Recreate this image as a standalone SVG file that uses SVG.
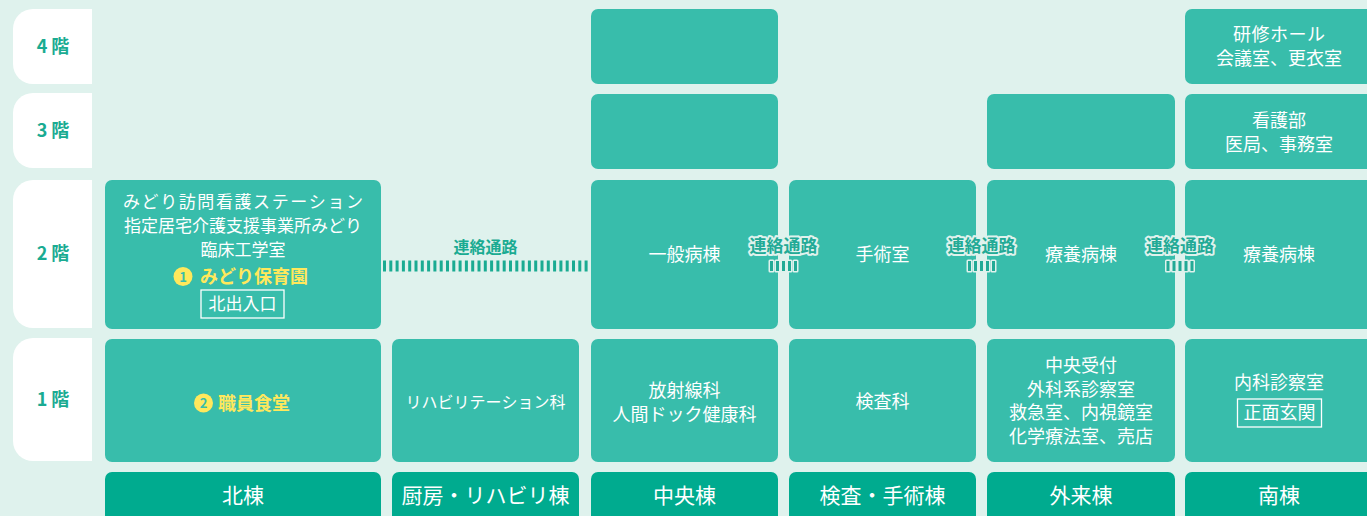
<svg xmlns="http://www.w3.org/2000/svg" width="1367" height="516" viewBox="0 0 1367 516">
<defs>
<style>
.bg{fill:#dff2ed}
.room{fill:#38bdab}
.bld{fill:#00ab8f}
.fl{fill:#ffffff}
text{font-family:"Noto Sans CJK JP","Noto Sans",sans-serif;font-kerning:none}
.flt{fill:#1aab92;font-size:18px;font-weight:700;text-anchor:middle}
.w{fill:#ffffff;font-size:17px;text-anchor:middle}
.w18{fill:#ffffff;font-size:18px;text-anchor:middle}
.w16{fill:#ffffff;font-size:16px;text-anchor:middle}
.bt{fill:#ffffff;font-size:21px;text-anchor:middle}
.yl{fill:#ffe85c;font-size:18px;font-weight:700}
.yc{fill:#ffe85c}
.ycn{fill:#38bdab;font-size:13px;font-weight:700;text-anchor:middle}
.frame{fill:none;stroke:#ffffff;stroke-width:1.3}
.cl{fill:#1aab92;font-size:16px;font-weight:700;text-anchor:middle}
.cl2{fill:#22aa96;font-size:17px;font-weight:700;text-anchor:middle;stroke:#dff2ed;stroke-width:4;stroke-linejoin:round;paint-order:stroke}
.barbg{fill:#dff2ed}
.bar{fill:#22aa96}
</style>
</defs>
<rect class="bg" x="0" y="0" width="1367" height="516"/>

<g id="floor-labels">
<g id="floor-4"><path class="fl" d="M33 9H92V84H33A20 20 0 0 1 13 64V29A20 20 0 0 1 33 9Z"/><text class="flt" x="53" y="53">4 階</text></g>
<g id="floor-3"><path class="fl" d="M33 93H92V168H33A20 20 0 0 1 13 148V113A20 20 0 0 1 33 93Z"/><text class="flt" x="53" y="137">3 階</text></g>
<g id="floor-2"><path class="fl" d="M33 180H92V328H33A20 20 0 0 1 13 308V200A20 20 0 0 1 33 180Z"/><text class="flt" x="53" y="260">2 階</text></g>
<g id="floor-1"><path class="fl" d="M33 338H92V461H33A20 20 0 0 1 13 441V358A20 20 0 0 1 33 338Z"/><text class="flt" x="53" y="406">1 階</text></g>
</g>

<g id="north-2f"><rect class="room" x="105" y="180" width="276" height="149" rx="7"/>
<text class="w" x="243" y="208" textLength="240" lengthAdjust="spacing">みどり訪問看護ステーション</text>
<text class="w" x="243" y="232">指定居宅介護支援事業所みどり</text>
<text class="w" x="243" y="256">臨床工学室</text>
<circle class="yc" cx="183" cy="276.5" r="9.5"/><text class="ycn" x="183" y="281.5">1</text>
<text class="yl" x="200" y="283">みどり保育園</text>
<rect class="frame" x="201" y="290" width="83" height="28"/>
<text class="w" x="242.5" y="310">北出入口</text>
</g>
<g id="north-1f"><rect class="room" x="105" y="339" width="276" height="123" rx="7"/>
<circle class="yc" cx="203.5" cy="403" r="9.5"/><text class="ycn" x="203.5" y="408">2</text>
<text class="yl" x="218" y="409.5">職員食堂</text>
</g>
<g id="north-building"><rect class="bld" x="105" y="472" width="276" height="56" rx="7"/><text class="bt" x="243" y="503">北棟</text></g>

<g id="rehab-1f"><rect class="room" x="392" y="339" width="187" height="123" rx="7"/><text class="w16" x="485.5" y="408">リハビリテーション科</text></g>
<g id="rehab-building"><rect class="bld" x="392" y="472" width="187" height="56" rx="7"/><text class="bt" x="485.5" y="503">厨房・リハビリ棟</text></g>

<g id="central-4f"><rect class="room" x="591" y="9" width="187" height="75" rx="7"/></g>
<g id="central-3f"><rect class="room" x="591" y="94" width="187" height="75" rx="7"/></g>
<g id="central-2f"><rect class="room" x="591" y="180" width="187" height="149" rx="7"/><text class="w18" x="684.5" y="261">一般病棟</text></g>
<g id="central-1f"><rect class="room" x="591" y="339" width="187" height="123" rx="7"/><text class="w18" x="684.5" y="396.5">放射線科</text><text class="w18" x="684.5" y="420.5">人間ドック健康科</text></g>
<g id="central-building"><rect class="bld" x="591" y="472" width="187" height="56" rx="7"/><text class="bt" x="684.5" y="503">中央棟</text></g>

<g id="exam-2f"><rect class="room" x="789" y="180" width="187" height="149" rx="7"/><text class="w18" x="882.5" y="261">手術室</text></g>
<g id="exam-1f"><rect class="room" x="789" y="339" width="187" height="123" rx="7"/><text class="w18" x="882.5" y="408">検査科</text></g>
<g id="exam-building"><rect class="bld" x="789" y="472" width="187" height="56" rx="7"/><text class="bt" x="882.5" y="503">検査・手術棟</text></g>

<g id="outpatient-3f"><rect class="room" x="987" y="94" width="188" height="75" rx="7"/></g>
<g id="outpatient-2f"><rect class="room" x="987" y="180" width="188" height="149" rx="7"/><text class="w18" x="1081" y="261">療養病棟</text></g>
<g id="outpatient-1f"><rect class="room" x="987" y="339" width="188" height="123" rx="7"/>
<text class="w18" x="1081" y="372">中央受付</text>
<text class="w18" x="1081" y="395.5">外科系診察室</text>
<text class="w18" x="1081" y="419">救急室、内視鏡室</text>
<text class="w18" x="1081" y="442.5">化学療法室、売店</text>
</g>
<g id="outpatient-building"><rect class="bld" x="987" y="472" width="188" height="56" rx="7"/><text class="bt" x="1081" y="503">外来棟</text></g>

<g id="south-4f"><rect class="room" x="1185" y="9" width="188" height="75" rx="7"/><text class="w18" x="1279" y="41" textLength="92" lengthAdjust="spacing">研修ホール</text><text class="w18" x="1279" y="65">会議室、更衣室</text></g>
<g id="south-3f"><rect class="room" x="1185" y="94" width="188" height="75" rx="7"/><text class="w18" x="1279" y="127">看護部</text><text class="w18" x="1279" y="151">医局、事務室</text></g>
<g id="south-2f"><rect class="room" x="1185" y="180" width="188" height="149" rx="7"/><text class="w18" x="1279" y="261">療養病棟</text></g>
<g id="south-1f"><rect class="room" x="1185" y="339" width="188" height="123" rx="7"/>
<text class="w18" x="1279" y="389">内科診察室</text>
<rect class="frame" x="1237.5" y="399" width="84" height="28"/>
<text class="w18" x="1279.5" y="419">正面玄関</text>
</g>
<g id="south-building"><rect class="bld" x="1185" y="472" width="188" height="56" rx="7"/><text class="bt" x="1279" y="503">南棟</text></g>

<g id="connectors">
<g id="corridor-north-central">
<text class="cl" x="485.5" y="253">連絡通路</text>
<line x1="383" y1="266" x2="589" y2="266" stroke="#1aab92" stroke-width="11" stroke-dasharray="3 3.3"/>
</g>
<g id="corridor-central-exam">
<text class="cl2" x="783.5" y="252">連絡通路</text>
<rect class="barbg" x="768.5" y="259.5" width="6" height="13" rx="1.5"/><rect class="barbg" x="774.5" y="259.5" width="6" height="13" rx="1.5"/><rect class="barbg" x="780.5" y="259.5" width="6" height="13" rx="1.5"/><rect class="barbg" x="786.5" y="259.5" width="6" height="13" rx="1.5"/><rect class="barbg" x="792.5" y="259.5" width="6" height="13" rx="1.5"/>
<rect class="bar" x="770" y="261" width="3" height="10"/><rect class="bar" x="776" y="261" width="3" height="10"/><rect class="bar" x="782" y="261" width="3" height="10"/><rect class="bar" x="788" y="261" width="3" height="10"/><rect class="bar" x="794" y="261" width="3" height="10"/>
</g>
<g id="corridor-exam-outpatient">
<text class="cl2" x="981.5" y="252">連絡通路</text>
<rect class="barbg" x="966.5" y="259.5" width="6" height="13" rx="1.5"/><rect class="barbg" x="972.5" y="259.5" width="6" height="13" rx="1.5"/><rect class="barbg" x="978.5" y="259.5" width="6" height="13" rx="1.5"/><rect class="barbg" x="984.5" y="259.5" width="6" height="13" rx="1.5"/><rect class="barbg" x="990.5" y="259.5" width="6" height="13" rx="1.5"/>
<rect class="bar" x="968" y="261" width="3" height="10"/><rect class="bar" x="974" y="261" width="3" height="10"/><rect class="bar" x="980" y="261" width="3" height="10"/><rect class="bar" x="986" y="261" width="3" height="10"/><rect class="bar" x="992" y="261" width="3" height="10"/>
</g>
<g id="corridor-outpatient-south">
<text class="cl2" x="1180" y="252">連絡通路</text>
<rect class="barbg" x="1165" y="259.5" width="6" height="13" rx="1.5"/><rect class="barbg" x="1171" y="259.5" width="6" height="13" rx="1.5"/><rect class="barbg" x="1177" y="259.5" width="6" height="13" rx="1.5"/><rect class="barbg" x="1183" y="259.5" width="6" height="13" rx="1.5"/><rect class="barbg" x="1189" y="259.5" width="6" height="13" rx="1.5"/>
<rect class="bar" x="1166.5" y="261" width="3" height="10"/><rect class="bar" x="1172.5" y="261" width="3" height="10"/><rect class="bar" x="1178.5" y="261" width="3" height="10"/><rect class="bar" x="1184.5" y="261" width="3" height="10"/><rect class="bar" x="1190.5" y="261" width="3" height="10"/>
</g>
</g>
</svg>
